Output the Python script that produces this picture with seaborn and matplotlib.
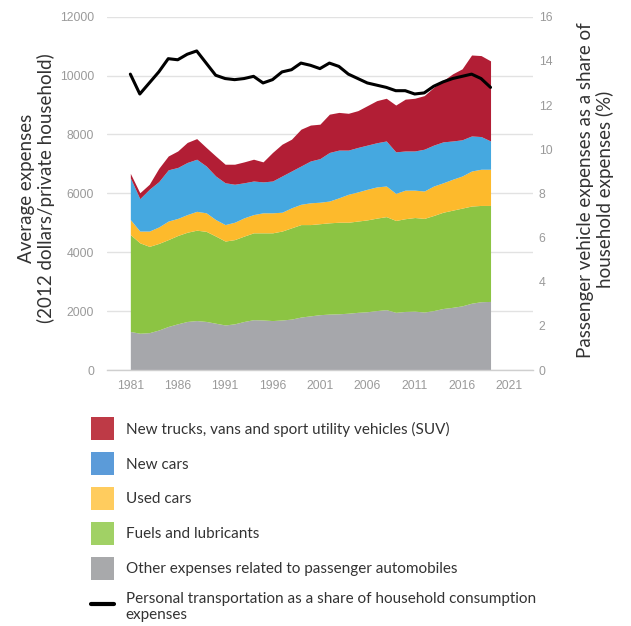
import numpy as np
import pandas as pd
import matplotlib
matplotlib.use("Agg")
import matplotlib.pyplot as plt
from matplotlib.patches import Patch
from matplotlib.lines import Line2D
import seaborn as sns

# data (2012 dollars per private household)
years = list(range(1981, 2020))

other_expenses = [1310, 1250, 1270, 1360, 1480, 1570, 1650, 1680, 1650, 1590,
                  1530, 1570, 1650, 1710, 1700, 1680, 1700, 1730, 1800, 1840,
                  1880, 1900, 1910, 1930, 1960, 1980, 2020, 2050, 1960, 1990,
                  2000, 1970, 2020, 2090, 2130, 2180, 2270, 2320, 2330]
fuels = [3290, 3070, 2930, 2940, 2950, 3000, 3030, 3070, 3060, 2960,
         2850, 2860, 2900, 2950, 2960, 2980, 3020, 3100, 3140, 3100,
         3090, 3100, 3110, 3090, 3100, 3120, 3140, 3160, 3120, 3150,
         3180, 3180, 3230, 3270, 3300, 3320, 3300, 3270, 3260]
used_cars = [510, 400, 520, 560, 630, 580, 600, 640, 630, 560,
             560, 590, 620, 620, 680, 680, 640, 680, 690, 740,
             730, 740, 830, 950, 990, 1040, 1060, 1040, 920, 970,
             930, 930, 1000, 1000, 1050, 1090, 1190, 1230, 1230]
new_cars = [1420, 1100, 1420, 1540, 1740, 1730, 1770, 1770, 1590, 1480,
            1420, 1290, 1190, 1140, 1050, 1080, 1230, 1250, 1300, 1420,
            1480, 1650, 1620, 1500, 1510, 1500, 1500, 1530, 1410, 1330,
            1330, 1420, 1390, 1390, 1300, 1230, 1190, 1110, 960]
new_trucks = [150, 200, 170, 450, 470, 560, 680, 700, 630, 680,
              630, 680, 710, 740, 680, 970, 1080, 1080, 1250, 1220,
              1170, 1300, 1280, 1250, 1250, 1340, 1430, 1450, 1590, 1760,
              1790, 1820, 1960, 2080, 2280, 2410, 2750, 2750, 2720]

# personal transportation as share of household consumption (%)
share_pct = [13.4, 12.5, 13.0, 13.5, 14.1, 14.05, 14.3, 14.45, 13.9, 13.35,
             13.2, 13.15, 13.2, 13.3, 13.0, 13.15, 13.5, 13.6, 13.9, 13.8,
             13.65, 13.9, 13.75, 13.4, 13.2, 13.0, 12.9, 12.8, 12.65, 12.65,
             12.5, 12.55, 12.85, 13.05, 13.2, 13.3, 13.4, 13.2, 12.8]

labels = ["New trucks, vans and sport utility vehicles (SUV)",
          "New cars",
          "Used cars",
          "Fuels and lubricants",
          "Other expenses related to passenger automobiles"]
line_label = "Personal transportation as a share of household consumption\nexpenses"

area_colors = ["#B21E35", "#45A8E0", "#FDBA2C", "#8CC443", "#A6A7AB"]
legend_colors = ["#BE3A46", "#5B9BD9", "#FFCC5E", "#A1D165", "#A8A9AB"]

df = pd.DataFrame({"year": years, "share": share_pct})

sns.set_style("white")
plt.rcParams["font.family"] = ["Lato", "DejaVu Sans"]

fig = plt.figure(figsize=(6.31, 6.26), dpi=100)
ax = fig.add_axes([0.169, 0.4089, 0.676, 0.5644])

# stacked areas, bottom to top
ax.stackplot(years, other_expenses, fuels, used_cars, new_cars, new_trucks,
             colors=area_colors[::-1], linewidth=0, zorder=2)

ax.set_xlim(1978.5, 2023.5)
ax.set_ylim(0, 12000)
ax.set_yticks(range(0, 12001, 2000))
ax.yaxis.grid(True, color="#e2e2e2", linewidth=1, zorder=0)
ax.set_axisbelow(True)
for s in ["left", "right", "top"]:
    ax.spines[s].set_visible(False)
ax.spines["bottom"].set_color("#cfcfcf")
ax.spines["bottom"].set_linewidth(1)

ax.set_xticks(range(1981, 2022, 5))
ax.set_xticks(np.arange(1978.5, 2024, 5), minor=True)
ax.tick_params(axis="x", which="major", length=0, pad=7, labelsize=8.8,
               labelcolor="#9a9a9a")
ax.tick_params(axis="x", which="minor", length=5, color="#cfcfcf", width=1)
ax.tick_params(axis="y", length=0, pad=9, labelsize=8.8, labelcolor="#9a9a9a")
for t in ax.get_xticklabels() + ax.get_yticklabels():
    t.set_fontfamily(["Liberation Sans", "DejaVu Sans"])

ax.set_xlabel("")
ax.set_ylabel("Average expenses\n(2012 dollars/private household)",
              fontsize=13.5, color="#333333", linespacing=1.1)
ax.yaxis.set_label_coords(-0.122, 0.515)

# share line on secondary axis
ax2 = ax.twinx()
sns.lineplot(data=df, x="year", y="share", ax=ax2, color="black",
             linewidth=2.2, zorder=5)
ax2.set_ylim(0, 16)
ax2.set_yticks(range(0, 17, 2))
ax2.set_xlim(1978.5, 2023.5)
ax2.grid(False)
for s in ["left", "right", "top", "bottom"]:
    ax2.spines[s].set_visible(False)
ax2.tick_params(axis="y", length=0, pad=4, labelsize=8.8, labelcolor="#9a9a9a")
for t in ax2.get_yticklabels():
    t.set_fontfamily(["Liberation Sans", "DejaVu Sans"])
ax2.set_xlabel("")
ax2.set_ylabel("Passenger vehicle expenses as a share of\nhousehold expenses (%)",
               fontsize=13.5, color="#333333", linespacing=1.1)
ax2.yaxis.set_label_coords(1.103, 0.51)

# legend below the chart
handles = [Patch(facecolor=c, edgecolor="none") for c in legend_colors]
handles.append(Line2D([0], [0], color="black", linewidth=3))
fig.legend(handles, labels + [line_label], loc="upper left",
           bbox_to_anchor=(0.135, 0.343), frameon=False, fontsize=11,
           handlelength=1.5, handleheight=1.93, handletextpad=0.75,
           labelspacing=0.78, labelcolor="#333333", borderaxespad=0)

fig.savefig("out.png", dpi=100)
